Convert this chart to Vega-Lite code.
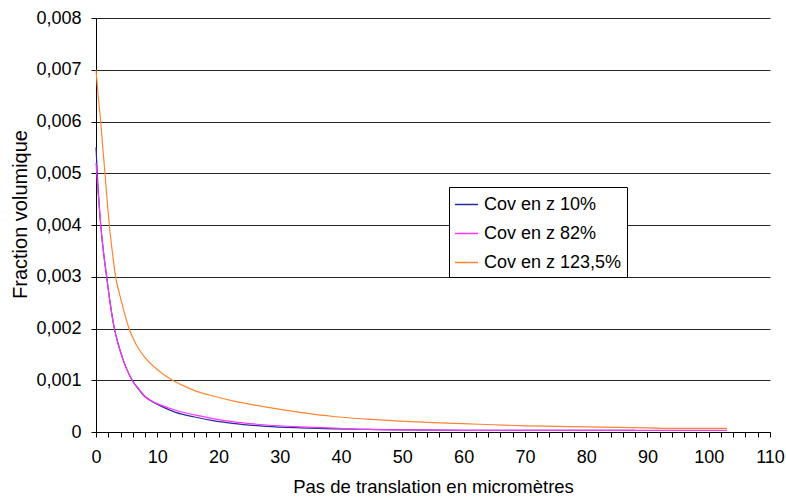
{
  "$schema": "https://vega.github.io/schema/vega-lite/v6.json",
  "width": 674,
  "height": 414,
  "autosize": {"type": "none"},
  "padding": {"left": 96, "top": 18, "right": 16, "bottom": 67},
  "background": "white",
  "config": {
    "font": "Liberation Sans",
    "view": {"stroke": null},
    "axis": {"labelFont": "Liberation Sans", "titleFont": "Liberation Sans", "labelColor": "#000", "titleColor": "#000", "titleFontWeight": "normal", "labelFontSize": 18, "titleFontSize": 18.5}
  },
  "data": {
    "values": [
      {"x": 0, "v": 0.0055, "s": "Cov en z 10%"},
      {"x": 0.3, "v": 0.0048, "s": "Cov en z 10%"},
      {"x": 0.77, "v": 0.0040, "s": "Cov en z 10%"},
      {"x": 1.2, "v": 0.0035, "s": "Cov en z 10%"},
      {"x": 1.74, "v": 0.0030, "s": "Cov en z 10%"},
      {"x": 2.3, "v": 0.0025, "s": "Cov en z 10%"},
      {"x": 3.0, "v": 0.0020, "s": "Cov en z 10%"},
      {"x": 3.5, "v": 0.00175, "s": "Cov en z 10%"},
      {"x": 4.0, "v": 0.00155, "s": "Cov en z 10%"},
      {"x": 4.5, "v": 0.00137, "s": "Cov en z 10%"},
      {"x": 5.0, "v": 0.00122, "s": "Cov en z 10%"},
      {"x": 5.9, "v": 0.0010, "s": "Cov en z 10%"},
      {"x": 7, "v": 0.00082, "s": "Cov en z 10%"},
      {"x": 7.9, "v": 0.00069, "s": "Cov en z 10%"},
      {"x": 9, "v": 0.00060, "s": "Cov en z 10%"},
      {"x": 10.6, "v": 0.00050, "s": "Cov en z 10%"},
      {"x": 13, "v": 0.00038, "s": "Cov en z 10%"},
      {"x": 16.1, "v": 0.00029, "s": "Cov en z 10%"},
      {"x": 19.1, "v": 0.00022, "s": "Cov en z 10%"},
      {"x": 22.3, "v": 0.000167, "s": "Cov en z 10%"},
      {"x": 27.8, "v": 0.00011, "s": "Cov en z 10%"},
      {"x": 33.3, "v": 0.00008, "s": "Cov en z 10%"},
      {"x": 38.8, "v": 0.00006, "s": "Cov en z 10%"},
      {"x": 44.2, "v": 0.00005, "s": "Cov en z 10%"},
      {"x": 50, "v": 0.00004, "s": "Cov en z 10%"},
      {"x": 60, "v": 0.00003, "s": "Cov en z 10%"},
      {"x": 70, "v": 0.00003, "s": "Cov en z 10%"},
      {"x": 80, "v": 0.00003, "s": "Cov en z 10%"},
      {"x": 88, "v": 0.00003, "s": "Cov en z 10%"},
      {"x": 0, "v": 0.0052, "s": "Cov en z 82%"},
      {"x": 0.3, "v": 0.0047, "s": "Cov en z 82%"},
      {"x": 0.77, "v": 0.0040, "s": "Cov en z 82%"},
      {"x": 1.2, "v": 0.0035, "s": "Cov en z 82%"},
      {"x": 1.74, "v": 0.0030, "s": "Cov en z 82%"},
      {"x": 2.3, "v": 0.0025, "s": "Cov en z 82%"},
      {"x": 3.0, "v": 0.0020, "s": "Cov en z 82%"},
      {"x": 3.5, "v": 0.00175, "s": "Cov en z 82%"},
      {"x": 4.0, "v": 0.00155, "s": "Cov en z 82%"},
      {"x": 4.5, "v": 0.00137, "s": "Cov en z 82%"},
      {"x": 5.0, "v": 0.00122, "s": "Cov en z 82%"},
      {"x": 5.9, "v": 0.0010, "s": "Cov en z 82%"},
      {"x": 7, "v": 0.00083, "s": "Cov en z 82%"},
      {"x": 7.9, "v": 0.00070, "s": "Cov en z 82%"},
      {"x": 9, "v": 0.00061, "s": "Cov en z 82%"},
      {"x": 10.6, "v": 0.00052, "s": "Cov en z 82%"},
      {"x": 13, "v": 0.00042, "s": "Cov en z 82%"},
      {"x": 16.1, "v": 0.00033, "s": "Cov en z 82%"},
      {"x": 19.1, "v": 0.00026, "s": "Cov en z 82%"},
      {"x": 22.3, "v": 0.00020, "s": "Cov en z 82%"},
      {"x": 27.8, "v": 0.000135, "s": "Cov en z 82%"},
      {"x": 33.3, "v": 0.00010, "s": "Cov en z 82%"},
      {"x": 38.8, "v": 0.000077, "s": "Cov en z 82%"},
      {"x": 44.2, "v": 0.00005, "s": "Cov en z 82%"},
      {"x": 50, "v": 0.00004, "s": "Cov en z 82%"},
      {"x": 60, "v": 0.00003, "s": "Cov en z 82%"},
      {"x": 70, "v": 0.00003, "s": "Cov en z 82%"},
      {"x": 80, "v": 0.00003, "s": "Cov en z 82%"},
      {"x": 90, "v": 0.00003, "s": "Cov en z 82%"},
      {"x": 103, "v": 0.00003, "s": "Cov en z 82%"},
      {"x": 0, "v": 0.0070, "s": "Cov en z 123,5%"},
      {"x": 0.35, "v": 0.0065, "s": "Cov en z 123,5%"},
      {"x": 0.77, "v": 0.0060, "s": "Cov en z 123,5%"},
      {"x": 1.1, "v": 0.0055, "s": "Cov en z 123,5%"},
      {"x": 1.47, "v": 0.0050, "s": "Cov en z 123,5%"},
      {"x": 1.8, "v": 0.0045, "s": "Cov en z 123,5%"},
      {"x": 2.17, "v": 0.0040, "s": "Cov en z 123,5%"},
      {"x": 2.65, "v": 0.0035, "s": "Cov en z 123,5%"},
      {"x": 3.2, "v": 0.0030, "s": "Cov en z 123,5%"},
      {"x": 3.7, "v": 0.00273, "s": "Cov en z 123,5%"},
      {"x": 4.2, "v": 0.0025, "s": "Cov en z 123,5%"},
      {"x": 4.8, "v": 0.00223, "s": "Cov en z 123,5%"},
      {"x": 5.4, "v": 0.0020, "s": "Cov en z 123,5%"},
      {"x": 6.5, "v": 0.00170, "s": "Cov en z 123,5%"},
      {"x": 7.9, "v": 0.00145, "s": "Cov en z 123,5%"},
      {"x": 9.2, "v": 0.00129, "s": "Cov en z 123,5%"},
      {"x": 10.6, "v": 0.00115, "s": "Cov en z 123,5%"},
      {"x": 12.2, "v": 0.00102, "s": "Cov en z 123,5%"},
      {"x": 14, "v": 0.00091, "s": "Cov en z 123,5%"},
      {"x": 16.1, "v": 0.00080, "s": "Cov en z 123,5%"},
      {"x": 19.3, "v": 0.00069, "s": "Cov en z 123,5%"},
      {"x": 22.3, "v": 0.00060, "s": "Cov en z 123,5%"},
      {"x": 25, "v": 0.00054, "s": "Cov en z 123,5%"},
      {"x": 27.8, "v": 0.00048, "s": "Cov en z 123,5%"},
      {"x": 33.3, "v": 0.00038, "s": "Cov en z 123,5%"},
      {"x": 38.8, "v": 0.00030, "s": "Cov en z 123,5%"},
      {"x": 44.2, "v": 0.00025, "s": "Cov en z 123,5%"},
      {"x": 49.7, "v": 0.00021, "s": "Cov en z 123,5%"},
      {"x": 55, "v": 0.00018, "s": "Cov en z 123,5%"},
      {"x": 60, "v": 0.00016, "s": "Cov en z 123,5%"},
      {"x": 65, "v": 0.00014, "s": "Cov en z 123,5%"},
      {"x": 70, "v": 0.00012, "s": "Cov en z 123,5%"},
      {"x": 75, "v": 0.00011, "s": "Cov en z 123,5%"},
      {"x": 80, "v": 0.00010, "s": "Cov en z 123,5%"},
      {"x": 85, "v": 0.00009, "s": "Cov en z 123,5%"},
      {"x": 90, "v": 0.00008, "s": "Cov en z 123,5%"},
      {"x": 95, "v": 0.00007, "s": "Cov en z 123,5%"},
      {"x": 103, "v": 0.00007, "s": "Cov en z 123,5%"}
    ]
  },
  "mark": {"type": "line", "strokeWidth": 1.2, "interpolate": "monotone"},
  "encoding": {
    "x": {
      "field": "x", "type": "quantitative",
      "scale": {"domain": [0, 110], "nice": false},
      "title": "Pas de translation en micromètres",
      "axis": {
        "values": [0,2,4,6,8,10,12,14,16,18,20,22,24,26,28,30,32,34,36,38,40,42,44,46,48,50,52,54,56,58,60,62,64,66,68,70,72,74,76,78,80,82,84,86,88,90,92,94,96,98,100,102,104,106,108,110],
        "labelExpr": "datum.value % 10 === 0 ? datum.value : ''",
        "grid": false, "domainColor": "#000", "tickColor": "#000", "tickSize": 5,
        "labelPadding": 11, "titlePadding": 11, "labelFlush": false, "labelOverlap": false
      }
    },
    "y": {
      "field": "v", "type": "quantitative",
      "scale": {"domain": [0, 0.008], "nice": false},
      "title": "Fraction volumique",
      "axis": {
        "values": [0, 0.001, 0.002, 0.003, 0.004, 0.005, 0.006, 0.007, 0.008],
        "labelExpr": "datum.value == 0 ? '0' : replace(format(datum.value, '.3f'), '.', ',')",
        "grid": true, "gridColor": "#000", "gridOpacity": 0.85, "domainColor": "#000", "tickColor": "#000", "tickSize": 5,
        "labelPadding": 10, "titlePadding": 5, "titleFontSize": 20, "titleY": 196, "labelFlush": false
      }
    },
    "color": {
      "field": "s", "type": "nominal",
      "scale": {"domain": ["Cov en z 10%", "Cov en z 82%", "Cov en z 123,5%"], "range": ["#2a2a9a", "#ff33ff", "#ff8533"]},
      "legend": {
        "title": null, "orient": "none", "legendX": 353, "legendY": 169,
        "symbolType": "stroke", "symbolSize": 529, "symbolStrokeWidth": 1.5,
        "labelFont": "Liberation Sans", "labelFontSize": 18, "labelColor": "#000",
        "strokeColor": "#000", "fillColor": "white", "padding": 5,
        "rowPadding": 7, "labelOffset": 5
      }
    }
  }
}
